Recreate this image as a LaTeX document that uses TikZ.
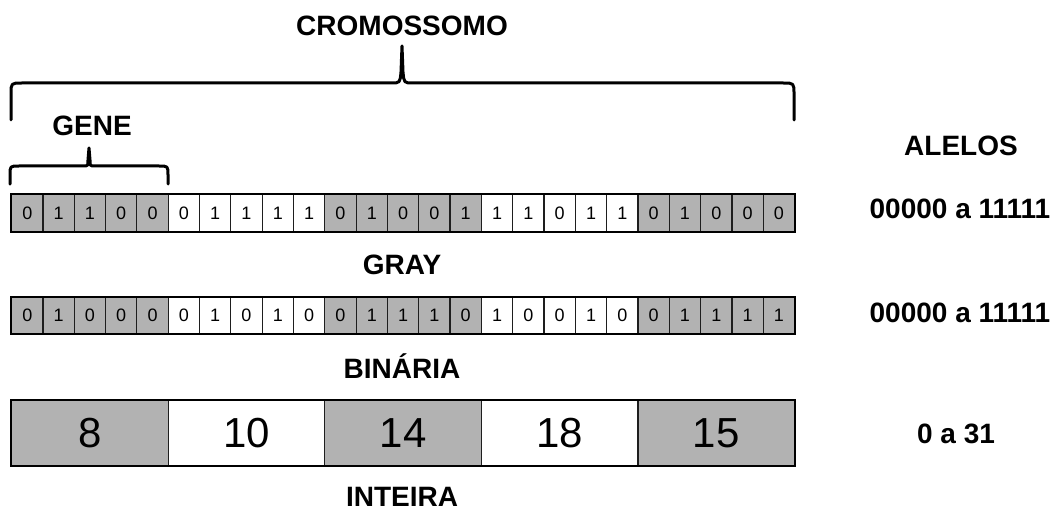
\documentclass[tikz,border=0pt]{standalone}
\usepackage{fontspec}
\setmainfont{Liberation Sans}
\definecolor{cellgray}{RGB}{178,178,178}
\definecolor{edge}{RGB}{30,30,30}
\begin{document}
\begin{tikzpicture}[x=1pt,y=-1pt,
  bitcell/.style={draw=edge, line width=1.2pt, inner sep=0pt, anchor=north west,
    minimum width=31.32pt, font=\fontsize{18}{18}\selectfont},
  intcell/.style={draw=edge, line width=1.2pt, inner sep=0pt, anchor=north west,
    minimum width=156.6pt, minimum height=65pt, font=\fontsize{42}{42}\selectfont},
  frame/.style={draw=black, line width=2.2pt},
  lbl/.style={inner sep=0pt, font=\bfseries\fontsize{28}{30}\selectfont},
  bracestroke/.style={draw=black, line width=3pt, line cap=round, line join=round}]
\useasboundingbox (0,0) rectangle (1056,513);

% Gray-coded chromosome
\foreach \b [count=\i] in {0,1,1,0,0, 0,1,1,1,1, 0,1,0,0,1, 1,1,0,1,1, 0,1,0,0,0}{
  \pgfmathtruncatemacro{\grp}{mod(floor((\i-1)/5),2)}
  \ifnum\grp=0 \def\fc{cellgray}\else\def\fc{white}\fi
  \node[bitcell, minimum height=37pt, fill=\fc] (g\i) at ({11+(\i-1)*31.32},194) {\b};
}
\draw[frame] (g1.north west) rectangle (g25.south east);

% Binary chromosome
\foreach \b [count=\i] in {0,1,0,0,0, 0,1,0,1,0, 0,1,1,1,0, 1,0,0,1,0, 0,1,1,1,1}{
  \pgfmathtruncatemacro{\grp}{mod(floor((\i-1)/5),2)}
  \ifnum\grp=0 \def\fc{cellgray}\else\def\fc{white}\fi
  \node[bitcell, minimum height=36pt, fill=\fc] (b\i) at ({11+(\i-1)*31.32},297) {\b};
}
\draw[frame] (b1.north west) rectangle (b25.south east);

% Integer chromosome
\foreach \v [count=\i] in {8,10,14,18,15}{
  \pgfmathtruncatemacro{\grp}{mod(\i-1,2)}
  \ifnum\grp=0 \def\fc{cellgray}\else\def\fc{white}\fi
  \node[intcell, fill=\fc] (n\i) at ({11+(\i-1)*156.6},400) {\v};
}
\draw[frame] (n1.north west) rectangle (n5.south east);

% Labels
\node[lbl] (crom) at (402,26) {CROMOSSOMO};
\node[lbl] (gene) at (92,126) {GENE};
\node[lbl] (alelos) at (961,146) {ALELOS};
\node[lbl] (rgray) at (960,209) {00000 a 11111};
\node[lbl] (gray) at (402,265) {GRAY};
\node[lbl] (rbin) at (960,313) {00000 a 11111};
\node[lbl] (bin) at (402,366) {BINÁRIA};
\node[lbl] (rint) at (956,434) {0 a 31};
\node[lbl] (int) at (402,497) {INTEIRA};

% Brace over the whole chromosome
\draw[bracestroke] (11,120) -- (11,94) .. controls (11,83) .. (22,83)
  -- (391,83) .. controls (400,83) .. (401,72) -- (402,46)
  -- (403,72) .. controls (404,83) .. (413,83)
  -- (783,83) .. controls (794,83) .. (794,94) -- (794,120);

% Brace over the first gene
\draw[bracestroke] (10,184) -- (10,175) .. controls (10,166) .. (19,166)
  -- (83,166) .. controls (88,166) .. (88,160) -- (89,148)
  -- (90,160) .. controls (90,166) .. (95,166)
  -- (159,166) .. controls (168,166) .. (168,175) -- (168,184);
\end{tikzpicture}
\end{document}
